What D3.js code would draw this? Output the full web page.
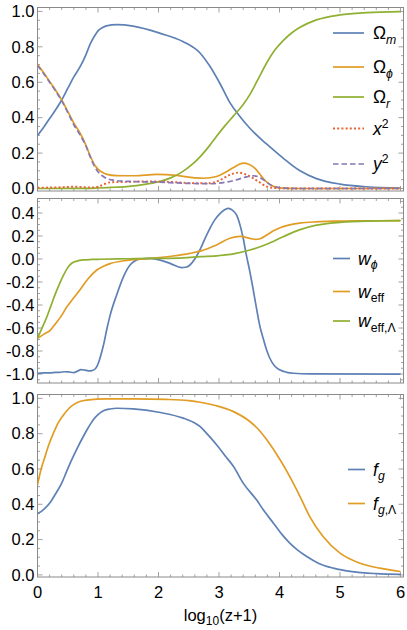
<!DOCTYPE html>
<html>
<head>
<meta charset="utf-8">
<script src="https://cdnjs.cloudflare.com/ajax/libs/d3/7.8.5/d3.min.js"></script>
<style>
  body { margin: 0; background: #fff; }
  text { font-family: "Liberation Sans", Arial, sans-serif; }
</style>
</head>
<body>
<div id="chart"></div>
<script>
// ---- data: [log10(z+1), value] ----
let omegaM = [[0,0.30],[0.1,0.345],[0.2,0.395],[0.3,0.445],[0.4,0.50],[0.5,0.565],[0.6,0.63],[0.7,0.685],[0.8,0.755],[0.87,0.815],[0.95,0.865],[1.0,0.89],[1.07,0.908],[1.14,0.918],[1.31,0.925],[1.58,0.917],[2.03,0.876],[2.41,0.829],[2.69,0.764],[2.85,0.69],[3.02,0.59],[3.18,0.485],[3.32,0.418],[3.51,0.34],[3.79,0.25],[4.06,0.172],[4.34,0.1],[4.61,0.056],[5.0,0.025],[5.44,0.01],[6,0.003]];
let omegaPhi = [[0,0.70],[0.1,0.655],[0.2,0.605],[0.3,0.555],[0.4,0.50],[0.5,0.435],[0.6,0.37],[0.7,0.315],[0.8,0.245],[0.87,0.185],[0.95,0.13],[1.0,0.11],[1.07,0.092],[1.15,0.08],[1.3,0.073],[1.6,0.072],[1.97,0.08],[2.3,0.074],[2.6,0.06],[2.75,0.058],[2.96,0.068],[3.1,0.09],[3.24,0.118],[3.4,0.143],[3.5,0.136],[3.6,0.112],[3.7,0.07],[3.79,0.036],[3.9,0.012],[4.05,0.002],[4.3,0],[6,0]];
let omegaR = [[0,0],[0.8,0.001],[1.0,0.003],[1.2,0.006],[1.47,0.011],[1.8,0.025],[2.03,0.04],[2.2,0.06],[2.36,0.087],[2.58,0.143],[2.69,0.18],[2.85,0.245],[2.96,0.295],[3.1,0.355],[3.24,0.41],[3.4,0.475],[3.51,0.53],[3.65,0.62],[3.79,0.71],[3.92,0.78],[4.06,0.835],[4.2,0.878],[4.34,0.91],[4.61,0.952],[5.0,0.98],[5.44,0.993],[6,0.999]];
let xSq = [[0,0.005],[0.3,0.006],[0.6,0.01],[0.9,0.006],[1.0,0.01],[1.1,0.024],[1.2,0.035],[1.4,0.037],[1.8,0.04],[2.2,0.037],[2.6,0.03],[2.85,0.03],[3.0,0.045],[3.18,0.077],[3.32,0.09],[3.46,0.077],[3.65,0.04],[3.79,0.011],[3.95,0.002],[4.2,0],[6,0]];
let ySq = [[0,0.695],[0.1,0.65],[0.2,0.6],[0.3,0.55],[0.4,0.495],[0.5,0.43],[0.6,0.36],[0.7,0.305],[0.8,0.24],[0.87,0.18],[0.95,0.12],[1.0,0.095],[1.1,0.065],[1.25,0.047],[1.5,0.04],[2.0,0.036],[2.4,0.03],[2.85,0.027],[3.0,0.03],[3.24,0.045],[3.46,0.066],[3.57,0.072],[3.66,0.065],[3.74,0.048],[3.9,0.012],[4.1,0.002],[4.3,0],[6,0]];

let wPhi = [[0,-0.995],[0.1,-0.99],[0.21,-0.99],[0.3,-0.985],[0.37,-0.985],[0.45,-0.98],[0.51,-0.982],[0.6,-0.988],[0.66,-0.975],[0.72,-0.962],[0.78,-0.966],[0.84,-0.972],[0.9,-0.97],[0.96,-0.952],[1.01,-0.9],[1.05,-0.83],[1.09,-0.75],[1.15,-0.6],[1.2,-0.49],[1.31,-0.31],[1.42,-0.155],[1.53,-0.052],[1.6,-0.02],[1.69,0],[1.86,0.005],[2.03,-0.01],[2.2,-0.04],[2.38,-0.075],[2.45,-0.072],[2.52,-0.052],[2.6,0.0],[2.69,0.085],[2.77,0.18],[2.85,0.267],[2.93,0.34],[3.02,0.397],[3.1,0.43],[3.16,0.44],[3.22,0.425],[3.29,0.383],[3.35,0.29],[3.4,0.18],[3.45,0.04],[3.51,-0.11],[3.56,-0.25],[3.62,-0.43],[3.67,-0.57],[3.73,-0.69],[3.78,-0.78],[3.84,-0.863],[3.92,-0.93],[4.01,-0.965],[4.12,-0.985],[4.23,-0.993],[4.5,-0.999],[6,-1]];
let wEff = [[0,-0.69],[0.1,-0.655],[0.21,-0.62],[0.3,-0.56],[0.4,-0.49],[0.48,-0.42],[0.565,-0.36],[0.7,-0.27],[0.84,-0.17],[0.98,-0.096],[1.1,-0.06],[1.2,-0.04],[1.47,-0.012],[1.86,0.005],[2.24,0.026],[2.52,0.049],[2.69,0.068],[2.85,0.098],[2.96,0.122],[3.18,0.18],[3.35,0.196],[3.51,0.18],[3.6,0.17],[3.68,0.176],[3.79,0.209],[3.9,0.245],[4.01,0.272],[4.15,0.295],[4.34,0.312],[4.6,0.323],[4.89,0.329],[5.3,0.332],[6,0.333]];
let wEffL = [[0,-0.69],[0.05,-0.63],[0.1,-0.57],[0.15,-0.51],[0.22,-0.41],[0.29,-0.31],[0.36,-0.22],[0.43,-0.14],[0.5,-0.075],[0.565,-0.037],[0.65,-0.018],[0.76,-0.008],[0.9,-0.004],[1.04,-0.002],[1.5,0.002],[2.0,0.005],[2.4,0.01],[2.69,0.02],[3.0,0.03],[3.24,0.045],[3.51,0.078],[3.79,0.128],[4.06,0.194],[4.34,0.255],[4.61,0.294],[5.0,0.319],[5.44,0.33],[6,0.333]];

let fg = [[0,0.346],[0.1,0.37],[0.21,0.41],[0.3,0.46],[0.4,0.52],[0.48,0.585],[0.565,0.652],[0.66,0.72],[0.757,0.784],[0.84,0.835],[0.92,0.878],[1.0,0.908],[1.09,0.93],[1.2,0.94],[1.31,0.944],[1.58,0.941],[2.03,0.92],[2.41,0.888],[2.6,0.86],[2.69,0.84],[2.8,0.8],[2.96,0.737],[3.1,0.675],[3.24,0.614],[3.4,0.52],[3.62,0.425],[3.75,0.36],[3.9,0.293],[4.05,0.225],[4.17,0.18],[4.3,0.14],[4.45,0.104],[4.65,0.065],[4.89,0.038],[5.2,0.018],[5.6,0.007],[6,0.003]];
let fgL = [[0,0.51],[0.06,0.6],[0.124,0.67],[0.19,0.74],[0.26,0.80],[0.34,0.86],[0.43,0.906],[0.51,0.94],[0.59,0.963],[0.7,0.982],[0.81,0.99],[1.14,0.997],[1.6,0.997],[2.13,0.994],[2.5,0.987],[2.69,0.978],[2.96,0.958],[3.24,0.925],[3.51,0.869],[3.65,0.825],[3.79,0.765],[4.01,0.652],[4.17,0.557],[4.34,0.444],[4.5,0.33],[4.72,0.217],[5.0,0.123],[5.33,0.066],[5.66,0.038],[6,0.019]];

// tick values
let xTicks = [0, 1, 2, 3, 4, 5, 6];
let yTicksA = [0.0, 0.2, 0.4, 0.6, 0.8, 1.0];
let yTicksB = [-1.0, -0.8, -0.6, -0.4, -0.2, 0.0, 0.2, 0.4];

// Mathematica default colours
let blue = "#5e81b5", orange = "#e19c24", green = "#8fb032", red = "#eb6235", purple = "#8778b3";

let svgWidth = 407, svgHeight = 630;
let left = 37.5, right = 403.5;

let svg = d3.select("#chart").append("svg")
    .attr("width", svgWidth)
    .attr("height", svgHeight);

let x = d3.scaleLinear().domain([0, 6]).range([left, right - 3]);

let panels = [
    {
        top: 7.5, bottom: 191, domain: [-0.014, 1.022], yTicks: yTicksA, xLabels: false,
        series: [
            {data: omegaM, color: blue},
            {data: omegaPhi, color: orange},
            {data: omegaR, color: green},
            {data: xSq, color: red, dash: "2,2.2", width: 1.9},
            {data: ySq, color: purple, dash: "5.5,3"}
        ],
        legend: {x1: 333, x2: 364, tx: 373, items: [
            {y: 33, color: blue, label: [["Ω", ""], ["m", "sub it"]]},
            {y: 67, color: orange, label: [["Ω", ""], ["ϕ", "sub it"]]},
            {y: 97, color: green, label: [["Ω", ""], ["r", "sub it"]]},
            {y: 128.5, color: red, dash: "2,2.2", label: [["x", "it"], ["2", "sup"]]},
            {y: 164, color: purple, dash: "5.5,3", label: [["y", "it"], ["2", "sup"]]}
        ]}
    },
    {
        top: 198.5, bottom: 383, domain: [-1.078, 0.526], yTicks: yTicksB, xLabels: false,
        series: [
            {data: wPhi, color: blue},
            {data: wEff, color: orange},
            {data: wEffL, color: green}
        ],
        legend: {x1: 333, x2: 350, tx: 358, items: [
            {y: 258.5, color: blue, label: [["w", "it"], ["ϕ", "sub it"]]},
            {y: 291.5, color: orange, label: [["w", "it"], ["eff", "sub"]]},
            {y: 321, color: green, label: [["w", "it"], ["eff,Λ", "sub"]]}
        ]}
    },
    {
        top: 394.5, bottom: 577, domain: [-0.012, 1.022], yTicks: yTicksA, xLabels: true,
        series: [
            {data: fg, color: blue},
            {data: fgL, color: orange}
        ],
        legend: {x1: 348, x2: 365, tx: 373, items: [
            {y: 469.5, color: blue, label: [["f", "it"], ["g", "sub it"]]},
            {y: 503.5, color: orange, label: [["f", "it"], ["g", "sub it"], [",Λ", "sub"]]}
        ]}
    }
];

// writes a label made of pieces; subscripts and superscripts shift the baseline
function richText(g, tx, ty, parts, size) {
    let t = g.append("text")
        .attr("x", tx)
        .attr("y", ty)
        .attr("font-size", size)
        .attr("fill", "#000");
    let shift = 0;
    parts.forEach(p => {
        let style = p[1];
        let target = style.includes("sub") ? 4.5 : style.includes("sup") ? -7 : 0;
        t.append("tspan")
            .attr("dy", target - shift)
            .attr("font-size", target !== 0 ? size * 0.7 : size)
            .attr("font-style", style.includes("it") ? "italic" : "normal")
            .text(p[0]);
        shift = target;
    });
}

let frameColor = "#8a8a8a";

panels.forEach(p => {
    let y = d3.scaleLinear().domain(p.domain).range([p.bottom, p.top]);
    let g = svg.append("g");

    // ticks on all four sides, pointing inwards
    let xMinor = d3.range(0, 6.001, 0.2).filter(v => Math.abs(v - Math.round(v)) > 1e-6);
    let yMinor = d3.range(Math.ceil(p.domain[0] / 0.05) * 0.05, p.domain[1], 0.05)
        .filter(v => Math.abs(v / 0.2 - Math.round(v / 0.2)) > 1e-6);

    let tickG = g.append("g").attr("stroke", frameColor).attr("stroke-width", 0.8);
    xTicks.forEach(v => {
        tickG.append("line").attr("x1", x(v)).attr("x2", x(v)).attr("y1", p.bottom).attr("y2", p.bottom - 5);
        tickG.append("line").attr("x1", x(v)).attr("x2", x(v)).attr("y1", p.top).attr("y2", p.top + 5);
    });
    xMinor.forEach(v => {
        tickG.append("line").attr("x1", x(v)).attr("x2", x(v)).attr("y1", p.bottom).attr("y2", p.bottom - 2.5);
        tickG.append("line").attr("x1", x(v)).attr("x2", x(v)).attr("y1", p.top).attr("y2", p.top + 2.5);
    });
    p.yTicks.forEach(v => {
        tickG.append("line").attr("x1", left).attr("x2", left + 5).attr("y1", y(v)).attr("y2", y(v));
        tickG.append("line").attr("x1", right).attr("x2", right - 5).attr("y1", y(v)).attr("y2", y(v));
    });
    yMinor.forEach(v => {
        tickG.append("line").attr("x1", left).attr("x2", left + 2.5).attr("y1", y(v)).attr("y2", y(v));
        tickG.append("line").attr("x1", right).attr("x2", right - 2.5).attr("y1", y(v)).attr("y2", y(v));
    });

    // frame
    g.append("rect")
        .attr("x", left).attr("y", p.top)
        .attr("width", right - left).attr("height", p.bottom - p.top)
        .attr("fill", "none").attr("stroke", frameColor).attr("stroke-width", 1);

    // y tick labels
    g.selectAll(".ylab")
        .data(p.yTicks)
        .join("text")
        .attr("x", left - 3)
        .attr("y", d => y(d) + 5.8)
        .attr("text-anchor", "end")
        .attr("font-size", 16.5)
        .text(d => d3.format(".1f")(d).replace("−", "-"));

    if (p.xLabels) {
        g.selectAll(".xlab")
            .data(xTicks)
            .join("text")
            .attr("x", d => x(d))
            .attr("y", p.bottom + 21)
            .attr("text-anchor", "middle")
            .attr("font-size", 16.5)
            .text(d => d);
    }

    // curves
    let line = d3.line()
        .x(d => x(d[0]))
        .y(d => y(d[1]))
        .curve(d3.curveMonotoneX);

    let clipId = "clip" + p.top;
    svg.append("clipPath").attr("id", clipId)
        .append("rect").attr("x", left).attr("y", p.top)
        .attr("width", right - left).attr("height", p.bottom - p.top);

    g.append("g").attr("clip-path", `url(#${clipId})`)
        .selectAll("path")
        .data(p.series)
        .join("path")
        .attr("d", d => line(d.data))
        .attr("fill", "none")
        .attr("stroke", d => d.color)
        .attr("stroke-width", d => d.width || 1.7)
        .attr("stroke-dasharray", d => d.dash || null);

    // legend
    p.legend.items.forEach(it => {
        g.append("line")
            .attr("x1", p.legend.x1).attr("x2", p.legend.x2)
            .attr("y1", it.y).attr("y2", it.y)
            .attr("stroke", it.color)
            .attr("stroke-width", it.dash === "2,2.2" ? 1.9 : 1.7)
            .attr("stroke-dasharray", it.dash || null);
        richText(g, p.legend.tx, it.y + 6, it.label, 17.5);
    });
});

// x axis title
let title = svg.append("text")
    .attr("x", (left + right) / 2)
    .attr("y", 621)
    .attr("text-anchor", "middle")
    .attr("font-size", 16.5);
title.append("tspan").text("log");
title.append("tspan").attr("dy", 4).attr("font-size", 12).text("10");
title.append("tspan").attr("dy", -4).text("(z+1)");
</script>
</body>
</html>
